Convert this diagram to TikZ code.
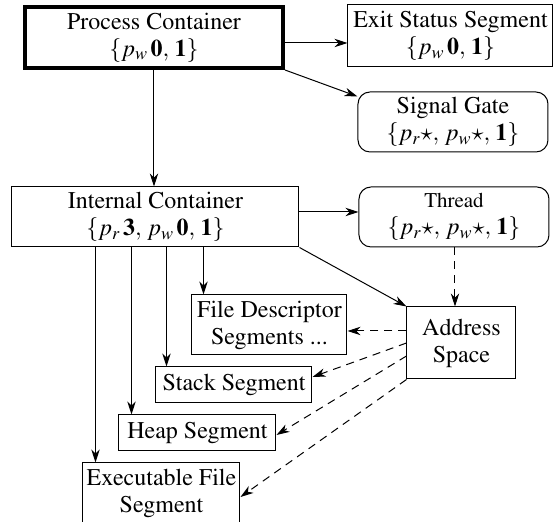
\documentclass[tikz,border=0pt]{standalone}
\usepackage[T1]{fontenc}
\usepackage{mathptmx}
\usetikzlibrary{arrows.meta}

\begin{document}
\begin{tikzpicture}[x=0.5pt, y=-0.5pt,
  every node/.style={font=\fontencoding{T1}\fontfamily{ptm}\fontsize{12}{13.5}\selectfont, align=center, inner sep=0pt},
  box/.style={draw, line width=0.5pt},
  rbox/.style={box, rounded corners=6pt},
  arr/.style={-{Stealth[length=6.5pt,width=4.2pt,inset=2pt]}, line width=0.5pt},
  darr/.style={arr, dash pattern=on 4pt off 3pt}]
\useasboundingbox (0,0) rectangle (554,522);

% containers and gates
\node[box, line width=2pt, minimum width=129pt, minimum height=30.5pt] (proc) at (154,37.5)
  {Process Container\\ $\{p_w\,\mathbf{0},\, \mathbf{1}\}$};
\node[box, minimum width=102.5pt, minimum height=31pt] (exit) at (450.5,36)
  {Exit Status Segment\\ $\{p_w\,\mathbf{0},\, \mathbf{1}\}$};
\node[rbox, minimum width=95pt, minimum height=30pt] (signal) at (453,122)
  {Signal Gate\\ $\{p_r\star,\, p_w\star,\, \mathbf{1}\}$};
\node[box, minimum width=143.5pt, minimum height=30pt] (internal) at (155.5,217)
  {Internal Container\\ $\{p_r\,\mathbf{3},\, p_w\,\mathbf{0},\, \mathbf{1}\}$};
\node[rbox, minimum width=95pt, minimum height=30pt] (thread) at (454,217)
  {{\fontsize{10.5}{13.5}\selectfont Thread}\\ $\{p_r\star,\, p_w\star,\, \mathbf{1}\}$};

% address space and segments
\node[box, minimum width=54.5pt, minimum height=36pt] (addr) at (461.5,343)
  {Address\\ Space};
\node[box, minimum width=77.5pt, minimum height=30pt] (fd) at (269.5,325)
  {File Descriptor\\ Segments ...};
\node[box, minimum width=78pt, minimum height=18pt] (stack) at (234,385)
  {Stack Segment};
\node[box, minimum width=78.5pt, minimum height=18pt] (heap) at (197.5,433)
  {Heap Segment};
\node[box, minimum width=78.5pt, minimum height=30pt] (exec) at (161.5,493)
  {Executable File\\ Segment};

% connectors
\draw[arr] ([yshift=-2.75pt]proc.east) -- ([yshift=-2.75pt]proc.east -| exit.west);
\draw[arr] (proc.south east) -- ([yshift=-2.5pt]signal.north west);
\draw[arr] (proc.south) -- (proc.south |- internal.north);
\draw[arr] ([yshift=2.5pt]internal.east) -- ([yshift=2.5pt]internal.east -| thread.west);
\draw[arr] (internal.south east) -- (addr.north west);
\draw[darr] ([xshift=0.5pt]thread.south) -- ([xshift=0.5pt]thread.south |- addr.north);

\draw[arr] ([xshift=6pt]fd.north west |- internal.south) -- ([xshift=6pt]fd.north west);
\draw[arr] ([xshift=5.5pt]stack.north west |- internal.south) -- ([xshift=5.5pt]stack.north west);
\draw[arr] ([xshift=6.5pt]heap.north west |- internal.south) -- ([xshift=6.5pt]heap.north west);
\draw[arr] ([xshift=6.5pt]exec.north west |- internal.south) -- ([xshift=6.5pt]exec.north west);

\draw[darr] ([yshift=6pt]addr.west) -- ([yshift=6pt]addr.west -| fd.east);
\draw[darr] (addr.west) -- ([yshift=4pt]stack.east);
\draw[darr] ([yshift=-6.5pt]addr.west) -- ([yshift=-1pt]heap.east);
\draw[darr] (addr.south west) -- ([yshift=-2pt]exec.east);
\end{tikzpicture}
\end{document}
